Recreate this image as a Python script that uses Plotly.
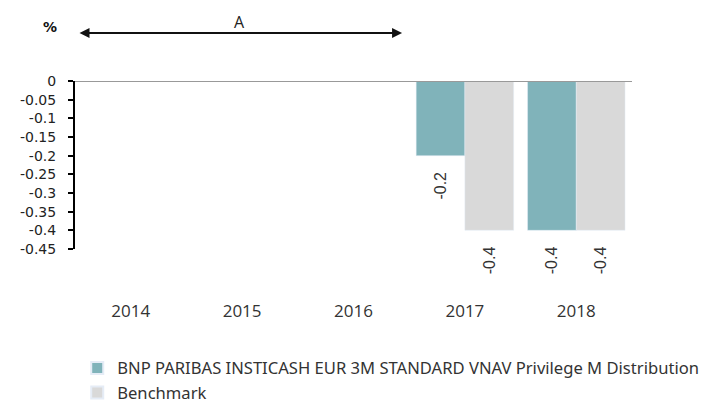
import plotly.graph_objects as go

years = ["2014", "2015", "2016", "2017", "2018"]
fund = [None, None, None, -0.2, -0.4]
bench = [None, None, None, -0.4, -0.4]
fund_name = "BNP PARIBAS INSTICASH EUR 3M STANDARD VNAV Privilege M Distribution"
bench_name = "Benchmark"
ytick_vals = [0, -0.05, -0.1, -0.15, -0.2, -0.25, -0.3, -0.35, -0.4, -0.45]
ytick_text = ["0", "-0.05", "-0.1", "-0.15", "-0.2", "-0.25", "-0.3", "-0.35", "-0.4", "-0.45"]

PAD = "\u00a0\u00a0\u00a0"

def lab(v):
    return ["" if x is None else f"{x:g}" + PAD for x in v]

label_font = dict(size=16, color="#333333", family="Liberation Sans")

fig = go.Figure()
fig.add_trace(go.Bar(x=years, y=fund, name=fund_name, marker_color="#80b3ba",
                     text=lab(fund), textposition="outside", textangle=-90,
                     textfont=label_font, cliponaxis=False))
fig.add_trace(go.Bar(x=years, y=bench, name=bench_name, marker_color="#d9d9d9",
                     text=lab(bench), textposition="outside", textangle=-90,
                     textfont=label_font, cliponaxis=False))

# page has an 8px body margin; figure extends a little beyond the window
fig.update_layout(
    width=740, height=420,
    margin=dict(l=62, r=116, t=73, b=179),
    paper_bgcolor="white", plot_bgcolor="white",
    barmode="group", bargap=0.125, bargroupgap=0,
    font=dict(family="Noto Sans", color="#333333"),
    legend=dict(orientation="v", x=0.004, xanchor="left", y=-0.605, yanchor="top",
                font=dict(size=16.6, color="#333333", family="Noto Sans"),
                tracegroupgap=0, itemsizing="constant"),
    xaxis=dict(type="category", showline=False, showgrid=False, ticks="",
               tickfont=dict(size=17, color="#333333", family="Open Sans"),
               ticklabelstandoff=50, range=[-0.5, 4.5], tickangle=0),
    yaxis=dict(range=[-0.45, 0], tickvals=ytick_vals, ticktext=ytick_text,
               showline=True, linecolor="black", linewidth=2, ticks="outside",
               ticklen=5, tickcolor="black", tickwidth=2, showgrid=False,
               zeroline=False, ticklabelstandoff=9,
               tickfont=dict(size=14, color="#222222", family="DejaVu Sans")),
    shapes=[dict(type="line", xref="paper", yref="y", x0=0, x1=1, y0=0, y1=0,
                 line=dict(color="#999999", width=2))],
    annotations=[
        dict(text="<b>%</b>", xref="paper", yref="paper", x=-0.045, y=1.32, showarrow=False,
             font=dict(size=14, color="#111111", family="DejaVu Sans"),
             xanchor="center", yanchor="middle"),
        dict(text="A", xref="x", yref="paper", x=0.977, y=1.35, showarrow=False,
             font=dict(size=16, color="#222222", family="Open Sans"),
             xanchor="center", yanchor="middle"),
        dict(text="", xref="x", yref="paper", x=2.436, y=1.286, axref="x", ayref="pixel",
             ax=-0.473, ay=0, showarrow=True, arrowhead=2, arrowsize=1, arrowwidth=2,
             arrowside="end+start", arrowcolor="#111111", standoff=0, startstandoff=0),
    ],
)

fig.write_html("out.html")
